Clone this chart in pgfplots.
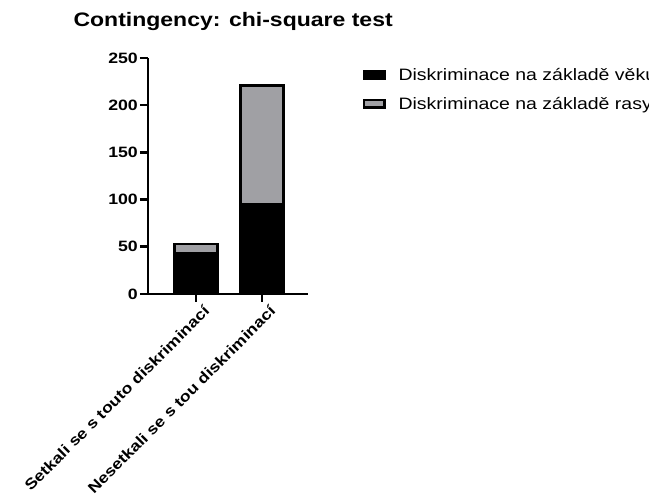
\documentclass[border=0pt]{standalone}
\usepackage{fontspec}
\setmainfont{Liberation Sans}[FakeStretch=1.18]
\usepackage{pgfplots}
\pgfplotsset{compat=1.18}
\definecolor{barGray}{RGB}{160,160,164}

\begin{document}
\begin{tikzpicture}
\useasboundingbox (0,0) rectangle (649pt,501pt);
\node[anchor=base west, font=\fontsize{19.5}{22}\selectfont\bfseries] at (70pt,474pt) {Contingency: chi-square test};
\begin{axis}[
    at={(148pt,207pt)}, anchor=south west,
    scale only axis,
    width=160pt, height=236pt,
    xmin=0.273, xmax=2.697,
    ymin=0, ymax=250,
    ybar stacked,
    bar width=43pt,
    axis x line*=bottom,
    axis y line*=left,
    axis line style={line width=2.6pt},
    tick align=outside,
    major tick length=8pt,
    tick style={line width=2.6pt, black},
    xtick={1,2},
    xticklabels={Setkali se s touto diskriminací, Nesetkali se s tou diskriminací},
    ytick={0,50,100,150,200,250},
    /pgf/number format/assume math mode=true,
    ticklabel style={font=\fontsize{15}{17}\selectfont\bfseries},
    x tick label style={rotate=45, anchor=east, inner sep=2pt, xshift=5pt, yshift=-12pt},
    y tick label style={inner sep=2pt},
    legend style={draw=none, fill=none, at={(1.34,0.965)}, anchor=north west,
        font=\fontsize{16.5}{19}\selectfont, row sep=11pt, inner sep=0pt,
        /tikz/every odd column/.append style={column sep=11pt},
        legend cell align=left},
    legend image code/.code={\draw[#1, line width=2.5pt] (0pt,-3.75pt) rectangle (20.5pt,3.75pt);},
    every axis plot/.append style={draw=black, line width=2.6pt},
]
\addplot[fill=black] coordinates {(1,43) (2,95)};
\addplot[fill=barGray] coordinates {(1,10) (2,126)};
\legend{Diskriminace na základě věku, Diskriminace na základě rasy}
\end{axis}
\end{tikzpicture}
\end{document}
